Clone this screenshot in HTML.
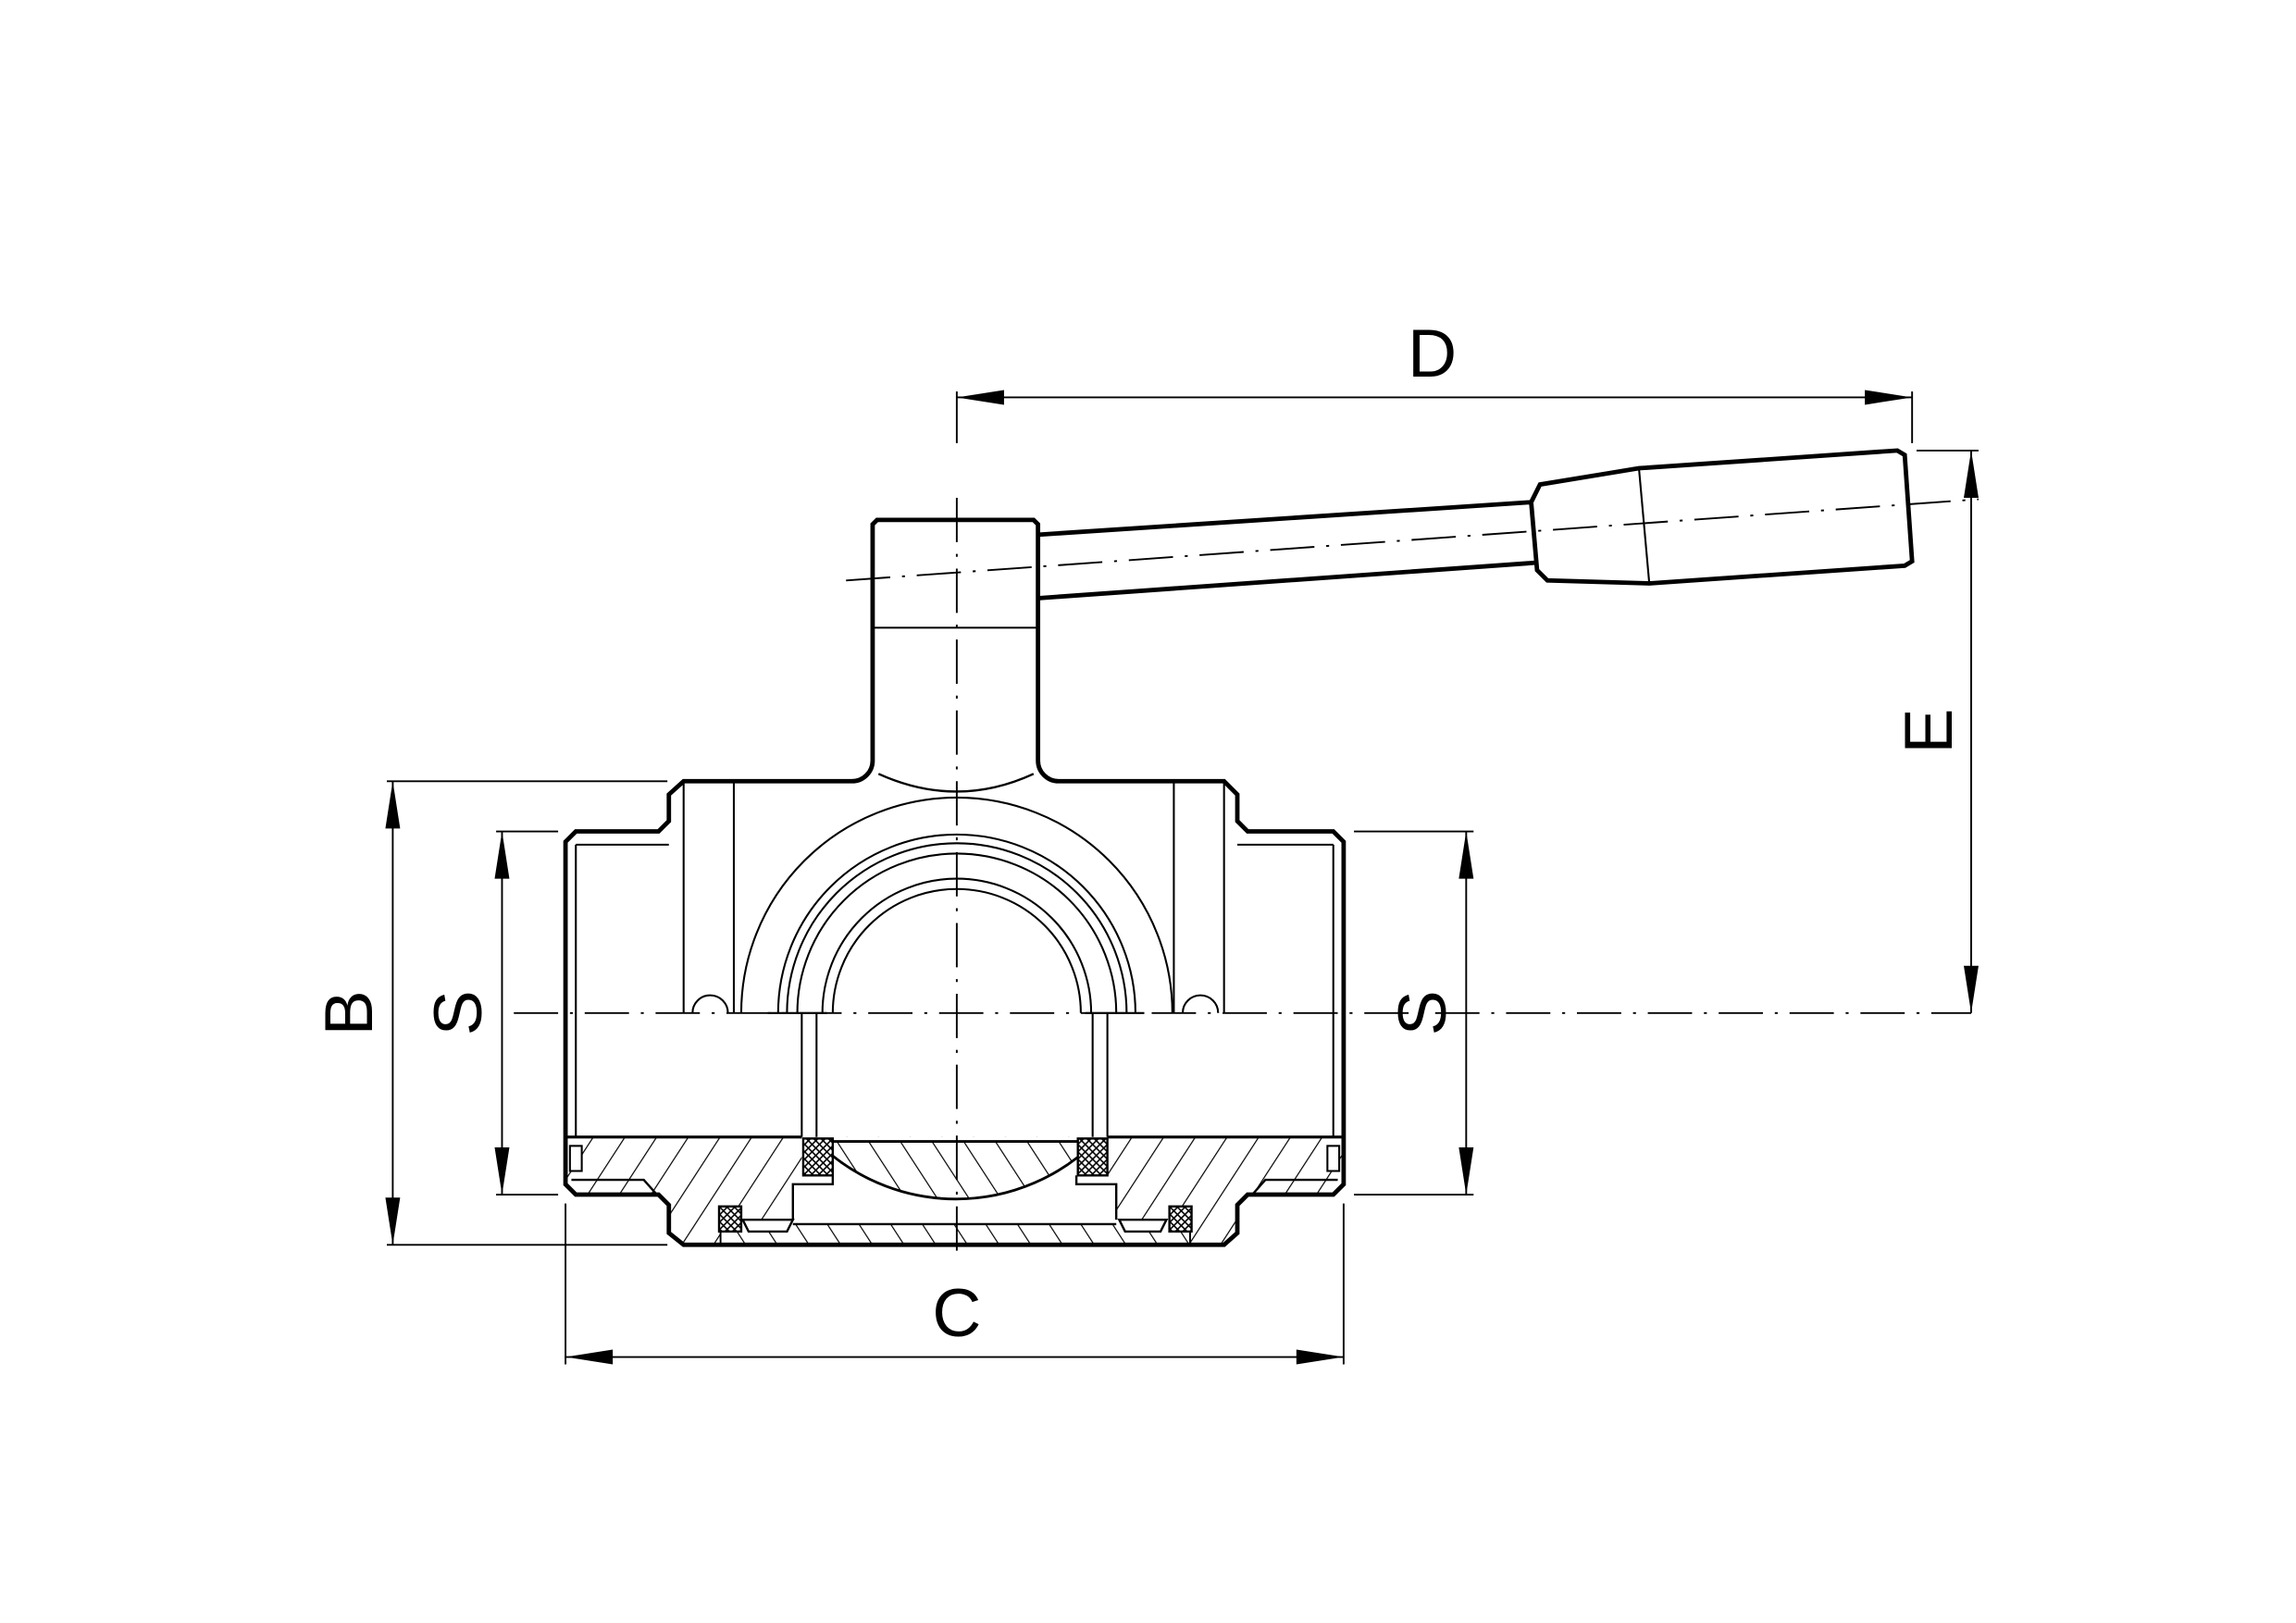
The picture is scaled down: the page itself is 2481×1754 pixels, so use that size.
<!DOCTYPE html>
<html><head><meta charset="utf-8"><style>html,body{margin:0;padding:0;background:#fff}svg{display:block}</style></head>
<body>
<svg width="2481" height="1754" viewBox="0 0 1555 1099" xmlns="http://www.w3.org/2000/svg">
<defs>
<pattern id="h" patternUnits="userSpaceOnUse" width="18" height="18" patternTransform="rotate(33)">
<line x1="0" y1="-2" x2="0" y2="20" stroke="#000" stroke-width="1.5"/></pattern>
<pattern id="hb" patternUnits="userSpaceOnUse" width="18" height="18" patternTransform="rotate(-33)">
<line x1="0" y1="-2" x2="0" y2="20" stroke="#000" stroke-width="1.5"/></pattern>
<pattern id="hx" patternUnits="userSpaceOnUse" width="5" height="5">
<path d="M0,0L5,5M5,0L0,5" stroke="#000" stroke-width="1"/></pattern>
</defs>
<g fill="none" stroke="#000" font-family="Liberation Sans, sans-serif">
<path d="M383,770H910V802L903,809H845L838,816V835L829,843H463L453,835V816L446,809H390L383,802Z" fill="url(#h)" stroke="none"/>
<path d="M543,770H750V797H756V802H756V829H537V802H543Z" fill="#fff" stroke="none"/>
<path d="M553,773H742A134,134 0 0 1 553,773Z" fill="url(#hb)" stroke-width="1.8"/>
<path d="M488,829H806V842H488Z" fill="#fff" stroke="none"/>
<path d="M488,829H806V842H488Z" fill="url(#hb)" stroke="none"/>
<path d="M503,826H537L533,834H507Z" fill="#fff" stroke-width="1.5"/>
<path d="M758,826H790L786,834H762Z" fill="#fff" stroke-width="1.5"/>
<path d="M537,829H756" stroke-width="1.5"/>
<path d="M564,796V802H537V826M729,796V802H756V826" stroke-width="1.5"/>
<rect x="487" y="817" width="15" height="17" fill="#fff" stroke="none"/>
<rect x="487" y="817" width="15" height="17" fill="url(#hx)" stroke-width="1.5"/>
<rect x="792" y="817" width="15" height="17" fill="#fff" stroke="none"/>
<rect x="792" y="817" width="15" height="17" fill="url(#hx)" stroke-width="1.5"/>
<rect x="544" y="771" width="20" height="25" fill="#fff" stroke="none"/>
<rect x="544" y="771" width="20" height="25" fill="url(#hx)" stroke-width="1.5"/>
<rect x="730" y="771" width="20" height="25" fill="#fff" stroke="none"/>
<rect x="730" y="771" width="20" height="25" fill="url(#hx)" stroke-width="1.5"/>
<path d="M488,834V842M806,834V842" stroke-width="1.2"/>
<line x1="383" y1="770" x2="543" y2="770" stroke-width="2"/>
<line x1="750" y1="770" x2="910" y2="770" stroke-width="2"/>
<rect x="386" y="776" width="8" height="17" fill="#fff" stroke-width="1.3"/>
<rect x="899" y="776" width="8" height="17" fill="#fff" stroke-width="1.3"/>
<path d="M387,799H436L444,808M906,799H857L849,808" stroke-width="1.5"/>
<g stroke-width="1.2" stroke-dasharray="30,8,2,8">
<line x1="648" y1="337" x2="648" y2="850"/>
<line x1="348" y1="686" x2="1335" y2="686"/>
<line x1="573" y1="393" x2="1340" y2="338"/>
</g>
<path d="M463,529H577A14,14 0 0 0 591,515V355L594,352H700L703,355V515A14,14 0 0 0 717,529H829L838,538V556L845,563H903L910,570V802L903,809H845L838,816V835L829,843H463L453,835V816L446,809H390L383,802V570L390,563H446L453,556V538Z" stroke-width="3"/>
<line x1="591" y1="425" x2="703" y2="425" stroke-width="1.2"/>
<path d="M595,524Q648,548 700,524" stroke-width="1.5"/>
<g stroke-width="1.3">
<path d="M390,572H453M390,572V770M903,572H838M903,572V770"/>
<path d="M463,529V686M497,529V686M795,529V686M829,529V686"/>
<path d="M469,686A12,12 0 0 1 493,686M801,686A12,12 0 0 1 825,686"/>
<path d="M502,686A146,146 0 0 1 794,686"/>
<path d="M527,686A121,121 0 0 1 769,686M533,686A115,115 0 0 1 763,686"/>
<path d="M540,686A108,108 0 0 1 756,686"/>
<path d="M557,686A91,91 0 0 1 739,686M564,686A84,84 0 0 1 732,686"/>
<path d="M543,686V770M553,686V770M740,686V770M750,686V770"/>
<path d="M520,686H560M735,686H775"/>
</g>
<path d="M703,362L1037,340M703,405L1040,381" stroke-width="3"/>
<path d="M1037,340L1043,328L1110,317L1285,305L1290,308L1295,380L1290,383L1117,395L1048,393L1041,386L1037,340Z" stroke-width="3"/>
<line x1="1110" y1="317" x2="1117" y2="395" stroke-width="1.3"/>
<g stroke-width="1.2">
<line x1="648" y1="269" x2="1295" y2="269"/>
<line x1="1295" y1="265" x2="1295" y2="300"/>
<line x1="648" y1="265" x2="648" y2="300"/>
<line x1="1335" y1="305" x2="1335" y2="686"/>
<line x1="1298" y1="305" x2="1340" y2="305"/>
<line x1="266" y1="529" x2="266" y2="843"/>
<line x1="262" y1="529" x2="452" y2="529"/>
<line x1="262" y1="843" x2="452" y2="843"/>
<line x1="340" y1="563" x2="340" y2="809"/>
<line x1="336" y1="563" x2="378" y2="563"/>
<line x1="336" y1="809" x2="378" y2="809"/>
<line x1="993" y1="563" x2="993" y2="809"/>
<line x1="917" y1="563" x2="998" y2="563"/>
<line x1="917" y1="809" x2="998" y2="809"/>
<line x1="383" y1="919" x2="910" y2="919"/>
<line x1="383" y1="815" x2="383" y2="924"/>
<line x1="910" y1="815" x2="910" y2="924"/>
</g>
<g fill="#000" stroke="none">
<path d="M648,269l32,-5v10z M1295,269l-32,-5v10z"/>
<path d="M1335,305l-5,32h10z M1335,686l-5,-32h10z"/>
<path d="M266,529l-5,32h10z M266,843l-5,-32h10z"/>
<path d="M340,563l-5,32h10z M340,809l-5,-32h10z"/>
<path d="M993,563l-5,32h10z M993,809l-5,-32h10z"/>
<path d="M383,919l32,-5v10z M910,919l-32,-5v10z"/>
</g>
<g fill="#000" stroke="none" font-size="46" text-anchor="middle">
<text x="970" y="255">D</text>
<text x="648" y="905">C</text>
<text transform="translate(1322,495) rotate(-90)">E</text>
<text transform="translate(252,686) rotate(-90)">B</text>
<text transform="translate(326,686) rotate(-90)">S</text>
<text transform="translate(979,686) rotate(-90)">S</text>
</g>
</g>
</svg>
</body></html>
